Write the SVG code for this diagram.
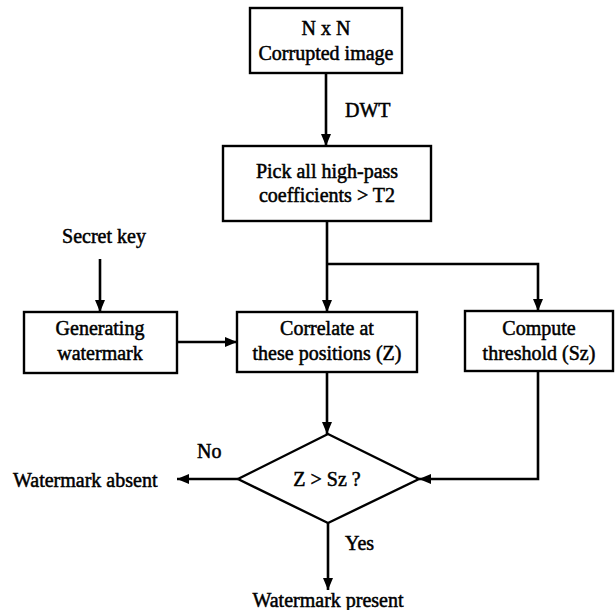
<svg xmlns="http://www.w3.org/2000/svg" width="615" height="610" viewBox="0 0 615 610">
<style>
  text { font-family: 'Liberation Serif', 'DejaVu Serif', serif; font-size: 20px; fill: #000; stroke: #000; stroke-width: 0.5px; }
  .c { text-anchor: middle; }
  .box { fill: #fff; stroke: #000; stroke-width: 2.4; }
  .edge { fill: none; stroke: #000; stroke-width: 2.6; }
</style>
<defs>
  <marker id="arrow" viewBox="0 0 12 10" refX="12" refY="5" markerWidth="12" markerHeight="10" markerUnits="userSpaceOnUse" orient="auto">
    <path d="M0,0 L12,5 L0,10 Z" fill="#000"/>
  </marker>
</defs>
<rect width="615" height="610" fill="#fff"/>

<g id="connectors">
  <line class="edge" x1="326" y1="73" x2="326" y2="146" marker-end="url(#arrow)"/>
  <text x="345" y="117">DWT</text>
  <line class="edge" x1="327" y1="221" x2="327" y2="312" marker-end="url(#arrow)"/>
  <polyline class="edge" points="327,264 538,264 538,311" marker-end="url(#arrow)"/>
  <line class="edge" x1="100" y1="259" x2="100" y2="312" marker-end="url(#arrow)"/>
  <line class="edge" x1="177" y1="342" x2="237" y2="342" marker-end="url(#arrow)"/>
  <line class="edge" x1="327" y1="372" x2="327" y2="434" marker-end="url(#arrow)"/>
  <polyline class="edge" points="538,371 538,479 419,479" marker-end="url(#arrow)"/>
  <line class="edge" x1="238" y1="479" x2="177" y2="479" marker-end="url(#arrow)"/>
  <text x="197" y="458">No</text>
  <line class="edge" x1="328" y1="523" x2="328" y2="590" marker-end="url(#arrow)"/>
  <text x="345" y="550">Yes</text>
</g>

<g id="input">
  <rect class="box" x="250" y="8" width="152" height="65"/>
  <text class="c" x="326" y="35">N x N</text>
  <text class="c" x="326" y="60">Corrupted image</text>
</g>

<g id="pick">
  <rect class="box" x="223" y="146" width="208" height="75"/>
  <text class="c" x="327" y="178">Pick all high-pass</text>
  <text class="c" x="327" y="202">coefficients  &gt; T2</text>
</g>

<g id="secretkey">
  <text class="c" x="104" y="243">Secret key</text>
</g>

<g id="generating">
  <rect class="box" x="24" y="312" width="153" height="61"/>
  <text class="c" x="100" y="335">Generating</text>
  <text class="c" x="100" y="360">watermark</text>
</g>

<g id="correlate">
  <rect class="box" x="237" y="312" width="180" height="60"/>
  <text class="c" x="327" y="335">Correlate at</text>
  <text class="c" x="327" y="360">these positions (Z)</text>
</g>

<g id="compute">
  <rect class="box" x="465" y="311" width="148" height="60"/>
  <text class="c" x="539" y="335">Compute</text>
  <text class="c" x="539" y="360">threshold (Sz)</text>
</g>

<g id="decision">
  <polygon class="box" points="328,434 419,479 328,523 238,479"/>
  <text class="c" x="327" y="486">Z &gt; Sz ?</text>
</g>

<g id="absent">
  <text x="13" y="487">Watermark absent</text>
</g>

<g id="present">
  <text class="c" x="328" y="607">Watermark present</text>
</g>
</svg>
